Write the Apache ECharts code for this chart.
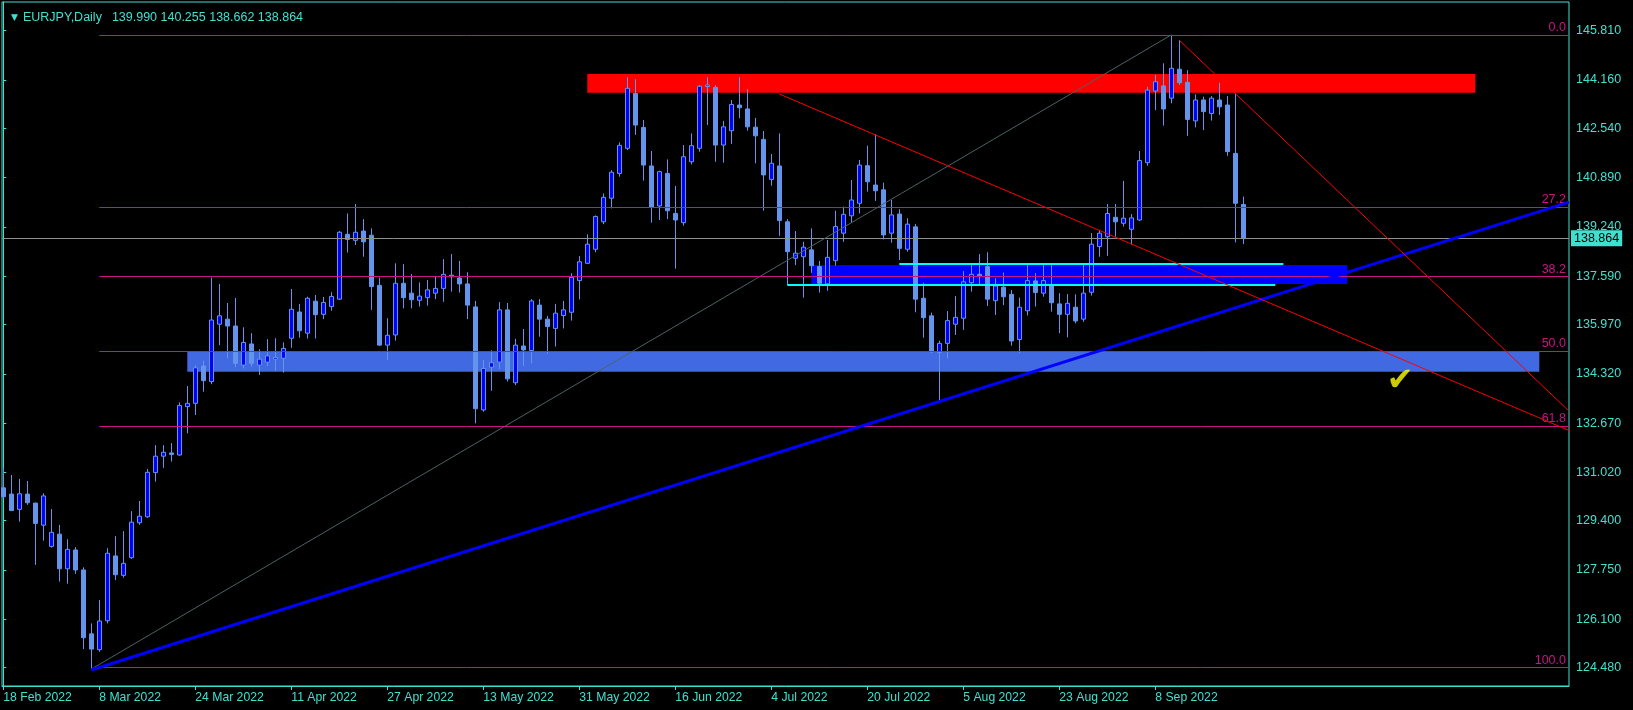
<!DOCTYPE html>
<html><head><meta charset="utf-8">
<script src="https://cdn.jsdelivr.net/npm/echarts@6/dist/echarts.min.js"></script>
<style>html,body{margin:0;padding:0;background:#000;}#c{width:1633px;height:710px;}</style>
</head><body><div id="c"></div>
<script>
const symbolName = 'EURJPY,Daily';
const dateTickIndex = [0,12,24,36,48,60,72,84,96,108,120,132,144];
const dateTickLabels = ['18 Feb 2022','8 Mar 2022','24 Mar 2022','11 Apr 2022','27 Apr 2022','13 May 2022','31 May 2022','16 Jun 2022','4 Jul 2022','20 Jul 2022','5 Aug 2022','23 Aug 2022','8 Sep 2022'];
const priceTicks = [145.810,144.160,142.540,140.890,139.240,137.590,135.970,134.320,132.670,131.020,129.400,127.750,126.100,124.480];
// daily candles, one row per trading day from 18 Feb 2022: [open, high, low, close]
const ohlc = [
[130.50,131.16,130.15,130.20],[130.29,130.93,129.73,129.74],[129.78,130.80,129.37,130.30],[130.29,130.73,129.93,130.00],[129.99,130.00,127.92,129.31],
[129.25,130.32,128.73,130.23],[128.54,129.79,128.50,129.01],[128.95,129.26,127.36,127.79],[127.79,128.78,127.29,128.44],[128.42,128.52,127.62,127.75],
[127.75,127.84,125.10,125.48],[125.61,125.96,124.43,125.10],[125.08,126.74,125.01,126.04],[126.05,128.48,125.96,128.31],[128.22,128.88,127.41,127.59],
[127.57,129.05,127.49,127.97],[128.16,129.72,128.12,129.35],[129.33,130.06,129.26,129.55],[129.53,131.13,129.50,131.02],[131.01,131.93,130.71,131.56],
[131.56,131.93,131.17,131.69],[131.67,132.00,131.38,131.62],[131.60,133.36,131.58,133.26],[133.22,133.91,132.33,133.33],[133.33,134.61,132.94,134.52],
[134.58,134.76,133.72,134.09],[134.06,137.54,133.97,136.12],[135.98,137.33,135.28,136.26],[136.15,136.69,134.84,135.92],[135.92,136.86,134.54,134.67],
[134.61,135.88,134.50,135.37],[135.32,135.68,134.56,134.67],[134.61,135.14,134.28,134.81],[134.71,135.48,134.58,134.92],[134.81,135.51,134.42,134.87],
[134.84,135.37,134.36,135.17],[135.51,137.16,135.19,136.48],[136.39,136.66,135.53,135.76],[135.68,136.90,135.50,136.85],[136.75,136.96,135.50,136.30],
[136.31,136.89,136.15,136.71],[136.57,137.05,136.43,136.91],[136.82,139.10,136.79,139.06],[138.99,139.69,138.38,138.82],[138.79,140.01,138.63,139.06],
[139.10,139.50,138.24,138.74],[138.96,139.19,136.46,137.24],[137.28,137.54,135.25,135.28],[135.28,136.18,134.78,135.61],[135.62,138.02,135.43,137.35],
[137.35,137.99,136.51,136.87],[137.02,137.66,136.51,136.80],[136.78,137.38,136.57,136.92],[136.87,137.46,136.60,137.13],[137.02,137.60,136.82,137.18],
[137.18,138.16,136.73,137.65],[137.62,138.33,137.07,137.57],[137.53,138.10,137.04,137.33],[137.33,137.72,136.15,136.62],[136.56,136.76,132.66,133.15],
[133.11,134.78,133.05,134.50],[134.54,135.11,133.75,134.69],[134.71,136.72,134.48,136.46],[136.46,136.69,134.06,134.15],[134.02,135.49,133.94,135.28],
[135.25,135.82,134.58,135.12],[135.10,136.82,134.67,136.76],[136.62,136.82,135.56,136.15],[136.15,136.26,134.99,135.90],[135.84,136.66,135.23,136.35],
[136.27,136.76,135.84,136.46],[136.38,137.69,136.10,137.55],[137.44,138.26,136.81,138.07],[138.02,138.99,138.00,138.66],[138.49,139.62,138.39,139.59],
[139.41,140.36,139.33,140.23],[140.20,141.14,139.86,141.07],[141.03,142.07,140.92,141.97],[141.87,144.25,141.81,143.88],[143.71,144.18,142.32,142.65],
[142.57,142.82,140.79,141.31],[141.28,141.78,139.38,139.89],[139.94,141.12,139.47,141.09],[141.03,141.50,139.50,139.78],[139.69,140.61,137.84,139.47],
[139.38,141.98,139.28,141.59],[141.42,142.37,141.33,141.96],[141.87,143.99,141.76,143.95],[143.94,144.25,142.65,143.99],[143.91,143.99,141.42,141.98],
[141.98,142.79,141.39,142.59],[142.46,143.49,142.02,143.34],[143.32,144.25,142.88,143.23],[143.19,143.85,142.46,142.59],[142.58,142.89,141.37,142.29],
[142.17,142.45,139.78,140.98],[140.83,141.68,140.62,141.37],[141.28,142.37,138.94,139.45],[139.41,139.50,137.29,138.41],[138.19,139.10,137.96,138.36],
[138.24,138.74,136.87,138.56],[138.47,139.19,137.70,137.94],[137.91,138.10,137.04,137.35],[137.33,138.80,137.10,138.22],[138.11,139.78,137.94,139.25],
[139.03,139.92,138.74,139.66],[139.61,140.81,139.38,140.14],[140.03,141.48,139.69,141.31],[141.29,141.96,140.42,140.75],[140.64,142.34,140.11,140.45],
[140.48,140.72,138.82,138.97],[139.03,140.14,138.71,139.64],[139.67,139.83,138.13,138.52],[138.49,139.53,138.41,139.33],[139.24,139.34,136.38,136.82],
[136.85,137.37,135.53,136.20],[136.26,136.37,135.01,135.06],[135.03,135.43,133.44,135.34],[135.34,136.42,134.84,136.10],[135.98,136.92,135.62,136.21],
[136.18,137.76,135.79,137.40],[137.37,138.00,137.07,137.65],[137.65,138.33,137.29,137.60],[137.91,138.39,136.59,136.82],[136.77,137.52,136.29,137.26],
[137.22,137.71,136.62,136.90],[136.98,137.13,135.26,135.42],[135.47,136.87,135.01,136.55],[136.43,137.96,136.27,137.44],[137.43,137.69,136.57,137.04],
[137.02,137.96,136.90,137.44],[137.29,137.96,136.40,136.70],[136.66,137.02,135.68,136.31],[136.31,136.99,135.54,136.68],[136.55,136.98,136.01,136.09],
[136.15,137.99,136.06,137.02],[137.05,139.03,136.94,138.66],[138.58,139.14,138.24,139.03],[138.91,140.01,138.27,139.69],[139.56,140.01,138.91,139.41],
[139.36,140.78,139.25,139.53],[139.16,139.67,138.66,139.54],[139.47,141.78,139.44,141.46],[141.39,143.93,141.29,143.82],[143.79,144.33,143.15,144.10],
[143.96,144.72,142.63,143.19],[143.55,145.67,143.38,144.55],[144.52,145.50,143.99,144.07],[144.08,144.49,142.29,142.84],[142.79,143.68,142.57,143.49],
[143.49,143.60,142.48,143.10],[143.04,143.62,142.80,143.55],[143.49,144.07,142.99,143.26],[143.32,143.62,141.62,141.76],[141.70,143.71,138.72,140.03],
[139.990,140.255,138.662,138.864]
];
const fibLevels = [0, 27.2, 38.2, 50, 61.8, 100];
const fibLabels = ['0.0','27.2','38.2','50.0','61.8','100.0'];
const fibHigh = 145.666, fibLow = 124.48, fibStartIndex = 12;
const fibDiagonal = [[11,124.43],[146,145.67]];
const lastPrice = 138.864;
const redZone = [[73,144.36],[184,143.73]];
const blueZone = [[23,135.07],[192,134.39]];
const darkBlueZone = [[101,137.96],[168,137.33]];
const cyanUpper = [[112,138.00],[160,138.00]];
const cyanLower = [[98,137.29],[159,137.29]];
const blueTrend = [[11,124.40],[195.71,140.07]];
const redLineA = [[97,143.69],[195.71,132.42]];
const redLineB = [[147,145.49],[195.71,133.07]];
const checkMark = [[174.6,134.05]];
const xMin = -0.1625, xMax = 195.71, yMin = 123.864, yMax = 146.771;

const FG = '#40E0D0';
const FONT = 'Liberation Sans, Arial, sans-serif';
const candleData = ohlc.map((r,i)=>[i, r[0], r[3], r[2], r[1]]);
const last = ohlc[ohlc.length-1];
const headerVals = [last[0],last[1],last[2],last[3]].map(v=>v.toFixed(3)).join(' ');

const fibLines = fibLevels.map((lv,k)=>{
  const p = fibHigh - lv/100*(fibHigh-fibLow);
  return [{coord:[fibStartIndex,p], label:{formatter: fibLabels[k]}},{coord:[xMax,p]}];
});
function seg(pts,color,width,z){
  return {type:'line',data:pts,showSymbol:false,symbol:'none',silent:true,z:z||3,
    lineStyle:{color:color,width:width},clip:true};
}
const chart = echarts.init(document.getElementById('c'),null,{renderer:'canvas'});
chart.setOption({
  backgroundColor:'#000000',
  animation:false,
  title:{left:6,top:4,text:'{t|▼} {n|'+symbolName+'}  {v|'+headerVals+'}',
    textStyle:{fontWeight:'normal',rich:{
      t:{color:FG,fontSize:9,fontFamily:'DejaVu Sans',fontWeight:'normal'},
      n:{color:FG,fontSize:12.5,fontFamily:FONT,fontWeight:'normal'},
      v:{color:FG,fontSize:12.5,fontFamily:FONT,fontWeight:'normal'}}}},
  grid:{left:2,right:64,top:2,bottom:24,show:true,borderColor:FG,borderWidth:1,backgroundColor:'#000'},
  xAxis:{type:'value',min:xMin,max:xMax,
    axisLine:{show:true,lineStyle:{color:FG}},
    axisTick:{show:true,customValues:dateTickIndex,length:4,lineStyle:{color:FG}},
    axisLabel:{customValues:dateTickIndex,color:FG,fontFamily:FONT,fontSize:12.2,align:'left',margin:6,
      formatter:v=>{const k=dateTickIndex.indexOf(Math.round(v));return k>=0?dateTickLabels[k]:'';}},
    splitLine:{show:false}},
  yAxis:{type:'value',position:'right',min:yMin,max:yMax,
    axisLine:{show:true,lineStyle:{color:FG}},
    axisTick:{show:true,customValues:priceTicks,length:3,lineStyle:{color:FG}},
    axisLabel:{customValues:priceTicks,color:FG,fontFamily:FONT,fontSize:12.5,margin:7,formatter:v=>v.toFixed(3)},
    splitLine:{show:false}},
  series:[
    {type:'candlestick',data:candleData,encode:{x:0,y:[1,2,3,4]},barWidth:4,silent:true,z:2,clip:true,
      itemStyle:{color:'#0000FF',color0:'#6495ED',borderColor:'#6495ED',borderColor0:'#6495ED',borderColorDoji:'#6495ED',borderWidth:1},
      markArea:{silent:true,z:1,data:[
        [{coord:redZone[0],itemStyle:{color:'#FF0000'}},{coord:redZone[1]}],
        [{coord:blueZone[0],itemStyle:{color:'#4169E1'}},{coord:blueZone[1]}],
        [{coord:darkBlueZone[0],itemStyle:{color:'#0000FF'}},{coord:darkBlueZone[1]}]
      ]},
      markLine:{silent:true,symbol:['none','none'],z:3,
        lineStyle:{color:'#909090',width:1,type:'solid'},
        label:{show:true,position:'end',distance:2,formatter:lastPrice.toFixed(3),color:'#000',backgroundColor:FG,
          padding:[2,3,1,3],fontFamily:FONT,fontSize:12.5},
        data:[{yAxis:lastPrice}]}
    },
    Object.assign(seg(fibDiagonal,'#4A6464',1,3),{
      markLine:{silent:true,symbol:['none','none'],z:4,
        lineStyle:{color:'#C71585',width:1,type:'solid'},
        label:{show:true,position:'insideEndTop',distance:[3,1],color:'#C71585',fontFamily:FONT,fontSize:12.5},
        data:fibLines}}),
    seg(cyanUpper,'#00FFFF',2,4),
    seg(cyanLower,'#00FFFF',2,4),
    seg(blueTrend,'#0000FF',3,4),
    seg(redLineA,'#FF0000',1,4),
    seg(redLineB,'#FF0000',1,4),
    {type:'scatter',data:checkMark,symbolSize:1,itemStyle:{color:'rgba(0,0,0,0)'},silent:true,z:6,
      label:{show:true,position:'inside',formatter:'✔',color:'#FFFF00',fontSize:32,fontFamily:'DejaVu Sans'}}
  ]
});
</script></body></html>
